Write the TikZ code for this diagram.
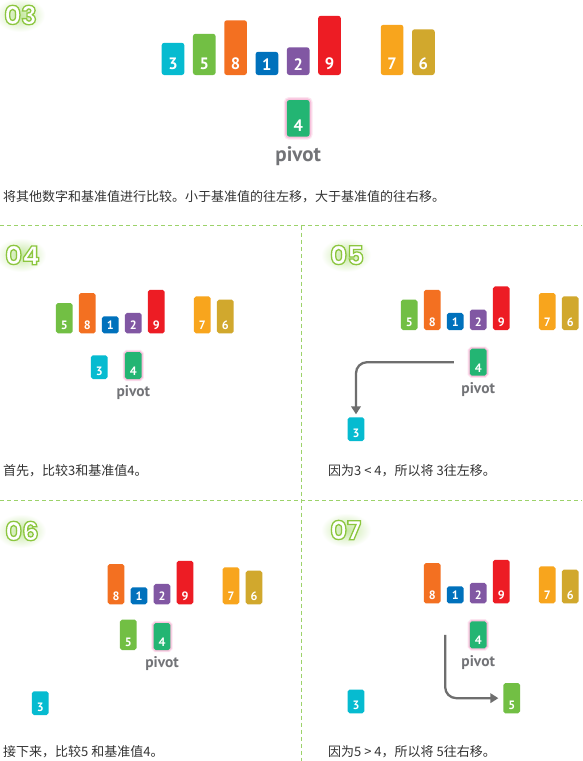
\documentclass[tikz,border=0pt]{standalone}
\usepackage{fontspec}
\setmainfont{PT Sans}
\newfontfamily\numfont{PT Sans}
\newfontfamily\titlefont[BoldFeatures={FakeBold=5}]{Poppins}
\newfontfamily\cjk{Noto Sans CJK SC}
\usetikzlibrary{arrows.meta}

\definecolor{c1}{HTML}{0071BC}
\definecolor{c2}{HTML}{8157A3}
\definecolor{c3}{HTML}{06BBD0}
\definecolor{c4}{HTML}{23B573}
\definecolor{c5}{HTML}{72BF44}
\definecolor{c6}{HTML}{D1A82D}
\definecolor{c7}{HTML}{F8A51D}
\definecolor{c8}{HTML}{F37021}
\definecolor{c9}{HTML}{ED1C24}
\definecolor{pivgray}{HTML}{727377}
\definecolor{arrgray}{HTML}{6E6E6E}
\definecolor{dashgreen}{HTML}{9CD26A}
\definecolor{glowgreen}{HTML}{C4E7A0}
\definecolor{pinkglow}{HTML}{F6A9CF}
\definecolor{captext}{HTML}{333333}

\tikzset{
  barbox/.style={anchor=south, inner sep=0pt, outer sep=0pt},
  digit/.style={text=white, inner sep=0pt, anchor=center},
  pivtext/.style={text=pivgray, inner sep=0pt},
  titletxt/.style={anchor=west, inner sep=0pt, text=white, font=\titlefont\bfseries\fontsize{26}{26}\selectfont},
  caption/.style={anchor=west, inner sep=0pt, text=captext, font=\cjk\fontsize{13}{13}\selectfont},
  dashline/.style={draw=dashgreen, line width=1pt, dash pattern=on 4pt off 3pt},
  arr/.style={draw=arrgray, line width=2.3pt, rounded corners=11pt, -{Triangle[width=9.5pt,length=8pt]}},
}

% name, x, y(bottom), value, scale
\newcommand\mybar[5]{%
  \pgfmathsetmacro\bh{(18.7+4.5*#4)*#5}%
  \pgfmathsetmacro\bw{22.7*#5}%
  \pgfmathsetmacro\bfs{16.5*#5}%
  \pgfmathsetmacro\bdy{10.8*#5}%
  \pgfmathsetmacro\brc{2.6*#5}%
  \node[barbox, fill=c#4, minimum width=\bw pt, minimum height=\bh pt, rounded corners=\brc pt] (#1) at (#2,#3) {};
  \node[digit, font=\numfont\bfseries\fontsize{\bfs}{\bfs}\selectfont] (#1n) at ([yshift=\bdy pt]#1.south) {#4};
}
% name, x, y(bottom), scale
\newcommand\mypivot[4]{%
  \pgfmathsetmacro\bh{(18.7+4.5*4)*#4}%
  \pgfmathsetmacro\bw{22.7*#4}%
  \pgfmathsetmacro\brc{2.6*#4}%
  \pgfmathsetmacro\gwa{6*#4}%
  \pgfmathsetmacro\gwb{3.4*#4}%
  \node[barbox, minimum width=\bw pt, minimum height=\bh pt, rounded corners=\brc pt, draw=pinkglow, draw opacity=0.3, line width=\gwa pt] (#1g) at (#2,#3) {};
  \node[barbox, minimum width=\bw pt, minimum height=\bh pt, rounded corners=\brc pt, draw=pinkglow, draw opacity=0.6, line width=\gwb pt] (#1h) at (#2,#3) {};
  \mybar{#1}{#2}{#3}{4}{#4}%
  \pgfmathsetmacro\pfs{21*#4}%
  \pgfmathsetmacro\pdy{24.3*#4}%
  \node[pivtext, anchor=base, font=\numfont\bfseries\fontsize{\pfs}{\pfs}\selectfont] (#1t) at ([yshift=-\pdy pt]#1.south) {pivot};
}
% name, x, y, text : soft green glow + white digits outlined in green
\newcommand\mytitle[4]{%
  \shade[inner color=glowgreen, outer color=white] ([xshift=16pt]#2,#3) ellipse [x radius=25pt, y radius=17pt];
  \node[titletxt] (#1) at (#2,#3) {\special{pdf:literal direct 0.549 0.776 0.247 RG}#4};
}

\begin{document}
\begin{tikzpicture}[x=1pt,y=-1pt]
\fill[white] (0,0) rectangle (582,761);
\useasboundingbox (0,0) rectangle (582,761);

% separators
\draw[dashline] (0,225.5) -- (582,225.5);
\draw[dashline] (0,500.8) -- (582,500.8);
\draw[dashline] (301,225.5) -- (301,761);

% ===== panel 03 =====
\mytitle{T03}{4}{15}{03}
\mybar{Ta}{173}{75}{3}{1}
\mybar{Tb}{173+31.3}{75}{5}{1}
\mybar{Tc}{173+31.3*2}{75}{8}{1}
\mybar{Td}{173+31.3*3}{75}{1}{1}
\mybar{Te}{173+31.3*4}{75}{2}{1}
\mybar{Tf}{173+31.3*5}{75}{9}{1}
\mybar{Tg}{173+31.3*7}{75}{7}{1}
\mybar{Th}{173+31.3*8}{75}{6}{1}
\mypivot{Tp}{173+31.3*4}{136.7}{1}
\node[caption] (C03) at (3,197) {将其他数字和基准值进行比较。小于基准值的往左移，大于基准值的往右移。};

% ===== panel 04 =====
\mytitle{T04}{5}{255}{04}
\mybar{Ab}{41.3+23}{333.3}{5}{0.735}
\mybar{Ac}{41.3+23*2}{333.3}{8}{0.735}
\mybar{Ad}{41.3+23*3}{333.3}{1}{0.735}
\mybar{Ae}{41.3+23*4}{333.3}{2}{0.735}
\mybar{Af}{41.3+23*5}{333.3}{9}{0.735}
\mybar{Ag}{41.3+23*7}{333.3}{7}{0.735}
\mybar{Ah}{41.3+23*8}{333.3}{6}{0.735}
\mybar{Aa}{99.3}{379}{3}{0.735}
\mypivot{Ap}{41.3+23*4}{379}{0.735}
\node[caption] (C04) at (3,471) {首先，比较3和基准值4。};

% ===== panel 05 =====
\mytitle{T05}{330}{255}{05}
\mybar{Bb}{386.2+23}{330}{5}{0.735}
\mybar{Bc}{386.2+23*2}{330}{8}{0.735}
\mybar{Bd}{386.2+23*3}{330}{1}{0.735}
\mybar{Be}{386.2+23*4}{330}{2}{0.735}
\mybar{Bf}{386.2+23*5}{330}{9}{0.735}
\mybar{Bg}{386.2+23*7}{330}{7}{0.735}
\mybar{Bh}{386.2+23*8}{330}{6}{0.735}
\mypivot{Bp}{386.2+23*4}{375.7}{0.735}
\mybar{Ba}{356}{441}{3}{0.735}
\draw[arr] ([xshift=-16pt]Bp.west) -| ([yshift=3pt]Ba.north);
\node[caption] (C05) at (328,471) {因为3 < 4，所以将 3往左移。};

% ===== panel 06 =====
\mytitle{T06}{5}{531}{06}
\mybar{Cc}{70+23*2}{604.3}{8}{0.735}
\mybar{Cd}{70+23*3}{604.3}{1}{0.735}
\mybar{Ce}{70+23*4}{604.3}{2}{0.735}
\mybar{Cf}{70+23*5}{604.3}{9}{0.735}
\mybar{Cg}{70+23*7}{604.3}{7}{0.735}
\mybar{Ch}{70+23*8}{604.3}{6}{0.735}
\mybar{Cb}{128.3}{650}{5}{0.735}
\mypivot{Cp}{70+23*4}{650}{0.735}
\mybar{Ca}{40.3}{715}{3}{0.735}
\node[caption] (C06) at (3,751.5) {接下来，比较5 和基准值4。};

% ===== panel 07 =====
\mytitle{T07}{330}{530}{07}
\mybar{Dc}{386.2+23*2}{603.3}{8}{0.735}
\mybar{Dd}{386.2+23*3}{603.3}{1}{0.735}
\mybar{De}{386.2+23*4}{603.3}{2}{0.735}
\mybar{Df}{386.2+23*5}{603.3}{9}{0.735}
\mybar{Dg}{386.2+23*7}{603.3}{7}{0.735}
\mybar{Dh}{386.2+23*8}{603.3}{6}{0.735}
\mypivot{Dp}{386.2+23*4}{648.3}{0.735}
\mybar{Db}{511.7}{713.3}{5}{0.735}
\mybar{Da}{356}{713.3}{3}{0.735}
\coordinate (Ds) at ([xshift=-33pt]Dp.center);
\draw[arr] (Ds) |- ([xshift=-5pt]Db.west);
\node[caption] (C07) at (328,752) {因为5 > 4，所以将 5往右移。};
\end{tikzpicture}
\end{document}
